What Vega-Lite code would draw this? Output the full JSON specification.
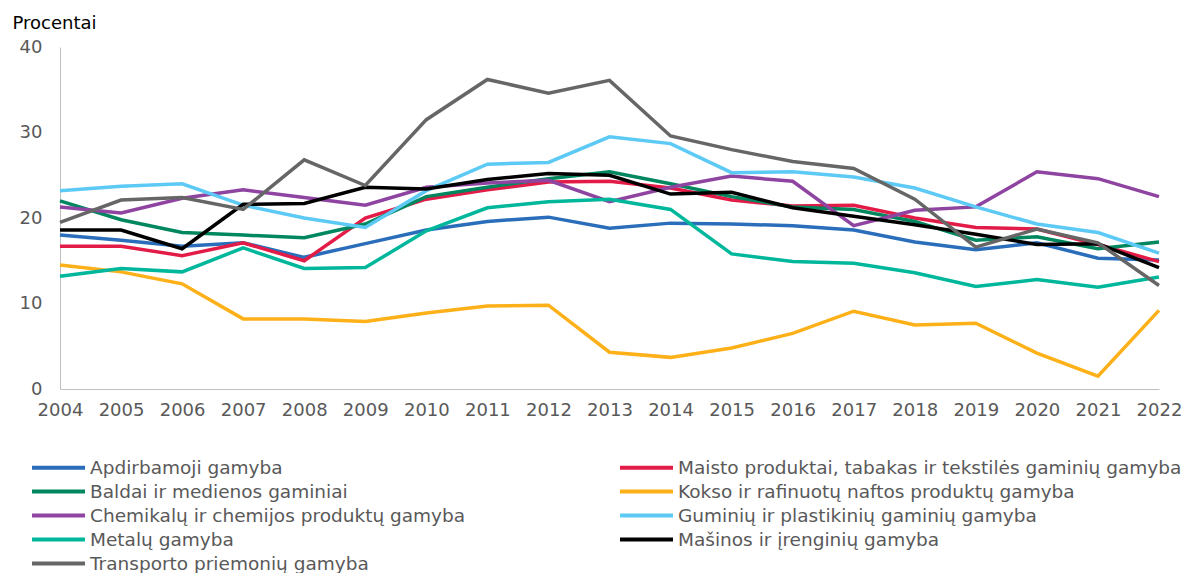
{
  "$schema": "https://vega.github.io/schema/vega-lite/v6.json",
  "width": 1099,
  "height": 342,
  "autosize": {"type": "none"},
  "padding": {"left": 60, "top": 47, "right": 28, "bottom": 184},
  "background": "white",
  "config": {"view": {"stroke": null}, "font": "DejaVu Sans"},
  "datasets": {
    "d": [
      {"year": "2004", "series": "Apdirbamoji gamyba", "value": 18.0},
      {"year": "2005", "series": "Apdirbamoji gamyba", "value": 17.4},
      {"year": "2006", "series": "Apdirbamoji gamyba", "value": 16.7},
      {"year": "2007", "series": "Apdirbamoji gamyba", "value": 17.1},
      {"year": "2008", "series": "Apdirbamoji gamyba", "value": 15.4},
      {"year": "2009", "series": "Apdirbamoji gamyba", "value": 17.0},
      {"year": "2010", "series": "Apdirbamoji gamyba", "value": 18.6},
      {"year": "2011", "series": "Apdirbamoji gamyba", "value": 19.6},
      {"year": "2012", "series": "Apdirbamoji gamyba", "value": 20.1},
      {"year": "2013", "series": "Apdirbamoji gamyba", "value": 18.8},
      {"year": "2014", "series": "Apdirbamoji gamyba", "value": 19.4},
      {"year": "2015", "series": "Apdirbamoji gamyba", "value": 19.3},
      {"year": "2016", "series": "Apdirbamoji gamyba", "value": 19.1},
      {"year": "2017", "series": "Apdirbamoji gamyba", "value": 18.6},
      {"year": "2018", "series": "Apdirbamoji gamyba", "value": 17.2},
      {"year": "2019", "series": "Apdirbamoji gamyba", "value": 16.3},
      {"year": "2020", "series": "Apdirbamoji gamyba", "value": 17.1},
      {"year": "2021", "series": "Apdirbamoji gamyba", "value": 15.3},
      {"year": "2022", "series": "Apdirbamoji gamyba", "value": 15.1},

      {"year": "2004", "series": "Maisto produktai, tabakas ir tekstilės gaminių gamyba", "value": 16.7},
      {"year": "2005", "series": "Maisto produktai, tabakas ir tekstilės gaminių gamyba", "value": 16.7},
      {"year": "2006", "series": "Maisto produktai, tabakas ir tekstilės gaminių gamyba", "value": 15.6},
      {"year": "2007", "series": "Maisto produktai, tabakas ir tekstilės gaminių gamyba", "value": 17.1},
      {"year": "2008", "series": "Maisto produktai, tabakas ir tekstilės gaminių gamyba", "value": 15.0},
      {"year": "2009", "series": "Maisto produktai, tabakas ir tekstilės gaminių gamyba", "value": 20.0},
      {"year": "2010", "series": "Maisto produktai, tabakas ir tekstilės gaminių gamyba", "value": 22.2},
      {"year": "2011", "series": "Maisto produktai, tabakas ir tekstilės gaminių gamyba", "value": 23.3},
      {"year": "2012", "series": "Maisto produktai, tabakas ir tekstilės gaminių gamyba", "value": 24.2},
      {"year": "2013", "series": "Maisto produktai, tabakas ir tekstilės gaminių gamyba", "value": 24.3},
      {"year": "2014", "series": "Maisto produktai, tabakas ir tekstilės gaminių gamyba", "value": 23.5},
      {"year": "2015", "series": "Maisto produktai, tabakas ir tekstilės gaminių gamyba", "value": 22.1},
      {"year": "2016", "series": "Maisto produktai, tabakas ir tekstilės gaminių gamyba", "value": 21.4},
      {"year": "2017", "series": "Maisto produktai, tabakas ir tekstilės gaminių gamyba", "value": 21.5},
      {"year": "2018", "series": "Maisto produktai, tabakas ir tekstilės gaminių gamyba", "value": 20.0},
      {"year": "2019", "series": "Maisto produktai, tabakas ir tekstilės gaminių gamyba", "value": 18.9},
      {"year": "2020", "series": "Maisto produktai, tabakas ir tekstilės gaminių gamyba", "value": 18.7},
      {"year": "2021", "series": "Maisto produktai, tabakas ir tekstilės gaminių gamyba", "value": 16.9},
      {"year": "2022", "series": "Maisto produktai, tabakas ir tekstilės gaminių gamyba", "value": 14.9},

      {"year": "2004", "series": "Baldai ir medienos gaminiai", "value": 22.0},
      {"year": "2005", "series": "Baldai ir medienos gaminiai", "value": 19.8},
      {"year": "2006", "series": "Baldai ir medienos gaminiai", "value": 18.3},
      {"year": "2007", "series": "Baldai ir medienos gaminiai", "value": 18.0},
      {"year": "2008", "series": "Baldai ir medienos gaminiai", "value": 17.7},
      {"year": "2009", "series": "Baldai ir medienos gaminiai", "value": 19.3},
      {"year": "2010", "series": "Baldai ir medienos gaminiai", "value": 22.5},
      {"year": "2011", "series": "Baldai ir medienos gaminiai", "value": 23.6},
      {"year": "2012", "series": "Baldai ir medienos gaminiai", "value": 24.6},
      {"year": "2013", "series": "Baldai ir medienos gaminiai", "value": 25.4},
      {"year": "2014", "series": "Baldai ir medienos gaminiai", "value": 24.0},
      {"year": "2015", "series": "Baldai ir medienos gaminiai", "value": 22.5},
      {"year": "2016", "series": "Baldai ir medienos gaminiai", "value": 21.3},
      {"year": "2017", "series": "Baldai ir medienos gaminiai", "value": 21.0},
      {"year": "2018", "series": "Baldai ir medienos gaminiai", "value": 19.6},
      {"year": "2019", "series": "Baldai ir medienos gaminiai", "value": 17.4},
      {"year": "2020", "series": "Baldai ir medienos gaminiai", "value": 17.8},
      {"year": "2021", "series": "Baldai ir medienos gaminiai", "value": 16.4},
      {"year": "2022", "series": "Baldai ir medienos gaminiai", "value": 17.2},

      {"year": "2004", "series": "Kokso ir rafinuotų naftos produktų gamyba", "value": 14.5},
      {"year": "2005", "series": "Kokso ir rafinuotų naftos produktų gamyba", "value": 13.7},
      {"year": "2006", "series": "Kokso ir rafinuotų naftos produktų gamyba", "value": 12.3},
      {"year": "2007", "series": "Kokso ir rafinuotų naftos produktų gamyba", "value": 8.2},
      {"year": "2008", "series": "Kokso ir rafinuotų naftos produktų gamyba", "value": 8.2},
      {"year": "2009", "series": "Kokso ir rafinuotų naftos produktų gamyba", "value": 7.9},
      {"year": "2010", "series": "Kokso ir rafinuotų naftos produktų gamyba", "value": 8.9},
      {"year": "2011", "series": "Kokso ir rafinuotų naftos produktų gamyba", "value": 9.7},
      {"year": "2012", "series": "Kokso ir rafinuotų naftos produktų gamyba", "value": 9.8},
      {"year": "2013", "series": "Kokso ir rafinuotų naftos produktų gamyba", "value": 4.3},
      {"year": "2014", "series": "Kokso ir rafinuotų naftos produktų gamyba", "value": 3.7},
      {"year": "2015", "series": "Kokso ir rafinuotų naftos produktų gamyba", "value": 4.8},
      {"year": "2016", "series": "Kokso ir rafinuotų naftos produktų gamyba", "value": 6.5},
      {"year": "2017", "series": "Kokso ir rafinuotų naftos produktų gamyba", "value": 9.1},
      {"year": "2018", "series": "Kokso ir rafinuotų naftos produktų gamyba", "value": 7.5},
      {"year": "2019", "series": "Kokso ir rafinuotų naftos produktų gamyba", "value": 7.7},
      {"year": "2020", "series": "Kokso ir rafinuotų naftos produktų gamyba", "value": 4.2},
      {"year": "2021", "series": "Kokso ir rafinuotų naftos produktų gamyba", "value": 1.5},
      {"year": "2022", "series": "Kokso ir rafinuotų naftos produktų gamyba", "value": 9.2},

      {"year": "2004", "series": "Chemikalų ir chemijos produktų gamyba", "value": 21.3},
      {"year": "2005", "series": "Chemikalų ir chemijos produktų gamyba", "value": 20.6},
      {"year": "2006", "series": "Chemikalų ir chemijos produktų gamyba", "value": 22.3},
      {"year": "2007", "series": "Chemikalų ir chemijos produktų gamyba", "value": 23.3},
      {"year": "2008", "series": "Chemikalų ir chemijos produktų gamyba", "value": 22.4},
      {"year": "2009", "series": "Chemikalų ir chemijos produktų gamyba", "value": 21.5},
      {"year": "2010", "series": "Chemikalų ir chemijos produktų gamyba", "value": 23.6},
      {"year": "2011", "series": "Chemikalų ir chemijos produktų gamyba", "value": 24.1},
      {"year": "2012", "series": "Chemikalų ir chemijos produktų gamyba", "value": 24.4},
      {"year": "2013", "series": "Chemikalų ir chemijos produktų gamyba", "value": 21.9},
      {"year": "2014", "series": "Chemikalų ir chemijos produktų gamyba", "value": 23.6},
      {"year": "2015", "series": "Chemikalų ir chemijos produktų gamyba", "value": 24.9},
      {"year": "2016", "series": "Chemikalų ir chemijos produktų gamyba", "value": 24.3},
      {"year": "2017", "series": "Chemikalų ir chemijos produktų gamyba", "value": 19.1},
      {"year": "2018", "series": "Chemikalų ir chemijos produktų gamyba", "value": 20.9},
      {"year": "2019", "series": "Chemikalų ir chemijos produktų gamyba", "value": 21.3},
      {"year": "2020", "series": "Chemikalų ir chemijos produktų gamyba", "value": 25.4},
      {"year": "2021", "series": "Chemikalų ir chemijos produktų gamyba", "value": 24.6},
      {"year": "2022", "series": "Chemikalų ir chemijos produktų gamyba", "value": 22.5},

      {"year": "2004", "series": "Guminių ir plastikinių gaminių gamyba", "value": 23.2},
      {"year": "2005", "series": "Guminių ir plastikinių gaminių gamyba", "value": 23.7},
      {"year": "2006", "series": "Guminių ir plastikinių gaminių gamyba", "value": 24.0},
      {"year": "2007", "series": "Guminių ir plastikinių gaminių gamyba", "value": 21.5},
      {"year": "2008", "series": "Guminių ir plastikinių gaminių gamyba", "value": 20.0},
      {"year": "2009", "series": "Guminių ir plastikinių gaminių gamyba", "value": 18.9},
      {"year": "2010", "series": "Guminių ir plastikinių gaminių gamyba", "value": 23.2},
      {"year": "2011", "series": "Guminių ir plastikinių gaminių gamyba", "value": 26.3},
      {"year": "2012", "series": "Guminių ir plastikinių gaminių gamyba", "value": 26.5},
      {"year": "2013", "series": "Guminių ir plastikinių gaminių gamyba", "value": 29.5},
      {"year": "2014", "series": "Guminių ir plastikinių gaminių gamyba", "value": 28.7},
      {"year": "2015", "series": "Guminių ir plastikinių gaminių gamyba", "value": 25.3},
      {"year": "2016", "series": "Guminių ir plastikinių gaminių gamyba", "value": 25.4},
      {"year": "2017", "series": "Guminių ir plastikinių gaminių gamyba", "value": 24.8},
      {"year": "2018", "series": "Guminių ir plastikinių gaminių gamyba", "value": 23.5},
      {"year": "2019", "series": "Guminių ir plastikinių gaminių gamyba", "value": 21.3},
      {"year": "2020", "series": "Guminių ir plastikinių gaminių gamyba", "value": 19.3},
      {"year": "2021", "series": "Guminių ir plastikinių gaminių gamyba", "value": 18.3},
      {"year": "2022", "series": "Guminių ir plastikinių gaminių gamyba", "value": 15.9},

      {"year": "2004", "series": "Metalų gamyba", "value": 13.2},
      {"year": "2005", "series": "Metalų gamyba", "value": 14.1},
      {"year": "2006", "series": "Metalų gamyba", "value": 13.7},
      {"year": "2007", "series": "Metalų gamyba", "value": 16.5},
      {"year": "2008", "series": "Metalų gamyba", "value": 14.1},
      {"year": "2009", "series": "Metalų gamyba", "value": 14.2},
      {"year": "2010", "series": "Metalų gamyba", "value": 18.5},
      {"year": "2011", "series": "Metalų gamyba", "value": 21.2},
      {"year": "2012", "series": "Metalų gamyba", "value": 21.9},
      {"year": "2013", "series": "Metalų gamyba", "value": 22.2},
      {"year": "2014", "series": "Metalų gamyba", "value": 21.0},
      {"year": "2015", "series": "Metalų gamyba", "value": 15.8},
      {"year": "2016", "series": "Metalų gamyba", "value": 14.9},
      {"year": "2017", "series": "Metalų gamyba", "value": 14.7},
      {"year": "2018", "series": "Metalų gamyba", "value": 13.6},
      {"year": "2019", "series": "Metalų gamyba", "value": 12.0},
      {"year": "2020", "series": "Metalų gamyba", "value": 12.8},
      {"year": "2021", "series": "Metalų gamyba", "value": 11.9},
      {"year": "2022", "series": "Metalų gamyba", "value": 13.1},

      {"year": "2004", "series": "Mašinos ir įrenginių gamyba", "value": 18.6},
      {"year": "2005", "series": "Mašinos ir įrenginių gamyba", "value": 18.6},
      {"year": "2006", "series": "Mašinos ir įrenginių gamyba", "value": 16.4},
      {"year": "2007", "series": "Mašinos ir įrenginių gamyba", "value": 21.6},
      {"year": "2008", "series": "Mašinos ir įrenginių gamyba", "value": 21.7},
      {"year": "2009", "series": "Mašinos ir įrenginių gamyba", "value": 23.6},
      {"year": "2010", "series": "Mašinos ir įrenginių gamyba", "value": 23.4},
      {"year": "2011", "series": "Mašinos ir įrenginių gamyba", "value": 24.5},
      {"year": "2012", "series": "Mašinos ir įrenginių gamyba", "value": 25.2},
      {"year": "2013", "series": "Mašinos ir įrenginių gamyba", "value": 25.0},
      {"year": "2014", "series": "Mašinos ir įrenginių gamyba", "value": 22.8},
      {"year": "2015", "series": "Mašinos ir įrenginių gamyba", "value": 23.0},
      {"year": "2016", "series": "Mašinos ir įrenginių gamyba", "value": 21.2},
      {"year": "2017", "series": "Mašinos ir įrenginių gamyba", "value": 20.2},
      {"year": "2018", "series": "Mašinos ir įrenginių gamyba", "value": 19.2},
      {"year": "2019", "series": "Mašinos ir įrenginių gamyba", "value": 18.1},
      {"year": "2020", "series": "Mašinos ir įrenginių gamyba", "value": 16.9},
      {"year": "2021", "series": "Mašinos ir įrenginių gamyba", "value": 17.0},
      {"year": "2022", "series": "Mašinos ir įrenginių gamyba", "value": 14.2},

      {"year": "2004", "series": "Transporto priemonių gamyba", "value": 19.5},
      {"year": "2005", "series": "Transporto priemonių gamyba", "value": 22.1},
      {"year": "2006", "series": "Transporto priemonių gamyba", "value": 22.4},
      {"year": "2007", "series": "Transporto priemonių gamyba", "value": 21.0},
      {"year": "2008", "series": "Transporto priemonių gamyba", "value": 26.8},
      {"year": "2009", "series": "Transporto priemonių gamyba", "value": 23.8},
      {"year": "2010", "series": "Transporto priemonių gamyba", "value": 31.5},
      {"year": "2011", "series": "Transporto priemonių gamyba", "value": 36.2},
      {"year": "2012", "series": "Transporto priemonių gamyba", "value": 34.6},
      {"year": "2013", "series": "Transporto priemonių gamyba", "value": 36.1},
      {"year": "2014", "series": "Transporto priemonių gamyba", "value": 29.6},
      {"year": "2015", "series": "Transporto priemonių gamyba", "value": 28.0},
      {"year": "2016", "series": "Transporto priemonių gamyba", "value": 26.6},
      {"year": "2017", "series": "Transporto priemonių gamyba", "value": 25.8},
      {"year": "2018", "series": "Transporto priemonių gamyba", "value": 22.2},
      {"year": "2019", "series": "Transporto priemonių gamyba", "value": 16.6},
      {"year": "2020", "series": "Transporto priemonių gamyba", "value": 18.7},
      {"year": "2021", "series": "Transporto priemonių gamyba", "value": 17.1},
      {"year": "2022", "series": "Transporto priemonių gamyba", "value": 12.1}
    ]
  },
  "data": {"name": "d"},
  "mark": {"type": "line", "strokeWidth": 3.5},
  "encoding": {
    "x": {
      "field": "year",
      "type": "ordinal",
      "scale": {"type": "point", "padding": 0},
      "axis": {
        "title": null,
        "labelAngle": 0,
        "labelFontSize": 18,
        "labelColor": "#595959",
        "ticks": false,
        "grid": false,
        "domainColor": "#bfbfbf",
        "domainWidth": 1,
        "labelPadding": 12
      }
    },
    "y": {
      "field": "value",
      "type": "quantitative",
      "scale": {"domain": [0, 40]},
      "axis": {
        "values": [0, 10, 20, 30, 40],
        "title": "Procentai",
        "titleAngle": 0,
        "titleAlign": "left",
        "titleBaseline": "alphabetic",
        "titleX": -48,
        "titleY": -19,
        "titleFontSize": 18,
        "titleFontWeight": "normal",
        "titleColor": "#000000",
        "labelFontSize": 18,
        "labelColor": "#595959",
        "ticks": false,
        "grid": false,
        "domainColor": "#bfbfbf",
        "labelPadding": 18
      }
    },
    "color": {
      "field": "series",
      "type": "nominal",
      "scale": {
        "domain": [
          "Apdirbamoji gamyba",
          "Maisto produktai, tabakas ir tekstilės gaminių gamyba",
          "Baldai ir medienos gaminiai",
          "Kokso ir rafinuotų naftos produktų gamyba",
          "Chemikalų ir chemijos produktų gamyba",
          "Guminių ir plastikinių gaminių gamyba",
          "Metalų gamyba",
          "Mašinos ir įrenginių gamyba",
          "Transporto priemonių gamyba"
        ],
        "range": ["#2a6ebb", "#e31b47", "#00875f", "#fdb018", "#8e44a0", "#5ccaf5", "#00b79c", "#000000", "#666666"]
      },
      "legend": {
        "title": null,
        "orient": "none",
        "direction": "horizontal",
        "legendX": -13.5,
        "legendY": 408.5,
        "columns": 2,
        "columnPadding": 146,
        "rowPadding": 2,
        "symbolType": "M-2.65,0H2.65",
        "symbolSize": 400,
        "symbolStrokeWidth": 4,
        "labelFontSize": 18.5,
        "labelColor": "#595959",
        "labelOffset": 19.5,
        "labelLimit": 700
      }
    }
  }
}
